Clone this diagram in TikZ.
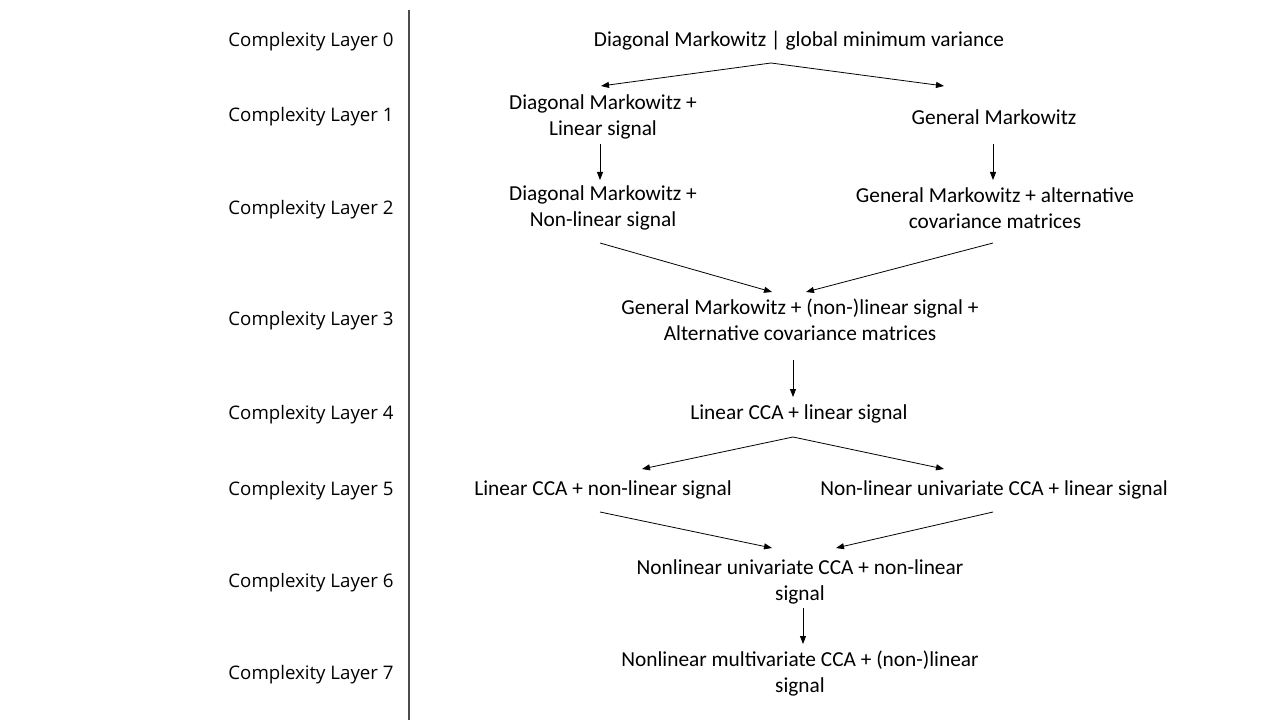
\documentclass[tikz,border=0pt]{standalone}
\usepackage{fontspec}
\setmainfont{Carlito}
\newfontfamily\layerfont{Open Sans}
\usetikzlibrary{arrows.meta,calc}

\tikzset{
	model/.style={align=center,font=\fontsize{16}{19.5}\selectfont},
	layer/.style={font=\layerfont\fontsize{14}{17}\selectfont},
	arr/.style={-{Triangle[length=6pt,width=4.5pt]},line width=0.6pt}
}

\begin{document}
\begin{tikzpicture}[x=0.75pt,y=-0.75pt]
			\useasboundingbox[fill=white] (0,0) rectangle (1280,720);
			% layer labels
			\node[layer] (lay0) at (311,42) {Complexity Layer 0};
			\node[layer] (lay1) at (311,117) {Complexity Layer 1};
			\node[layer] (lay2) at (311,210) {Complexity Layer 2};
			\node[layer] (lay3) at (311,321) {Complexity Layer 3};
			\node[layer] (lay4) at (311,415) {Complexity Layer 4};
			\node[layer] (lay5) at (311,491) {Complexity Layer 5};
			\node[layer] (lay6) at (311,583) {Complexity Layer 6};
			\node[layer] (lay7) at (311,675) {Complexity Layer 7};
			\draw[line width=0.8pt,color=black!70] (409,10) -- (409,720);

			% models
			\node[model] (gmv) at (799,41) {Diagonal Markowitz | global minimum variance};
			\node[model] (dmlin) at (603,117) {Diagonal Markowitz +\\Linear signal};
			\node[model] (gm) at (994,117) {General Markowitz};
			\node[model] (dmnl) at (603,208) {Diagonal Markowitz +\\Non-linear signal};
			\node[model] (gmalt) at (995,208) {General Markowitz + alternative\\covariance matrices};
			\node[model] (gmall) at (800,320) {General Markowitz + (non-)linear signal +\\Alternative covariance matrices};
			\node[model] (ccalin) at (799,414) {Linear CCA + linear signal};
			\node[model] (ccanl) at (603,490) {Linear CCA + non-linear signal};
			\node[model] (ucalin) at (994,490) {Non-linear univariate CCA + linear signal};
			\node[model] (ucanl) at (800,582) {Nonlinear univariate CCA + non-linear\\signal};
			\node[model] (mcanl) at (800,674) {Nonlinear multivariate CCA + (non-)linear\\signal};

			% arrows
			\draw[arr] ($(gmv)+(-28,22)$) -- ($(dmlin)+(-2,-31)$);
			\draw[arr] ($(gmv)+(-28,22)$) -- ($(gm)+(-50,-31)$);
			\draw[arr] ($(dmlin)+(-3,27)$) -- ($(dmnl)+(-3,-28)$);
			\draw[arr] ($(gm)+(-1,27)$) -- ($(gmalt)+(-2,-28)$);
			\draw[arr] ($(dmnl)+(-3,35)$) -- ($(gmall)+(-28,-28)$);
			\draw[arr] ($(gmalt)+(-2,35)$) -- ($(gmall)+(6,-28)$);
			\draw[arr] ($(gmall)+(-7,40)$) -- ($(ccalin)+(-6,-17)$);
			\draw[arr] ($(ccalin)+(-6,23)$) -- ($(ccanl)+(39,-21)$);
			\draw[arr] ($(ccalin)+(-6,23)$) -- ($(ucalin)+(-50,-21)$);
			\draw[arr] ($(ccanl)+(-3,22)$) -- ($(ucanl)+(-28,-34)$);
			\draw[arr] ($(ucalin)+(-1,22)$) -- ($(ucanl)+(36,-34)$);
			\draw[arr] ($(ucanl)+(3,26)$) -- ($(mcanl)+(3,-30)$);
\end{tikzpicture}
\end{document}
